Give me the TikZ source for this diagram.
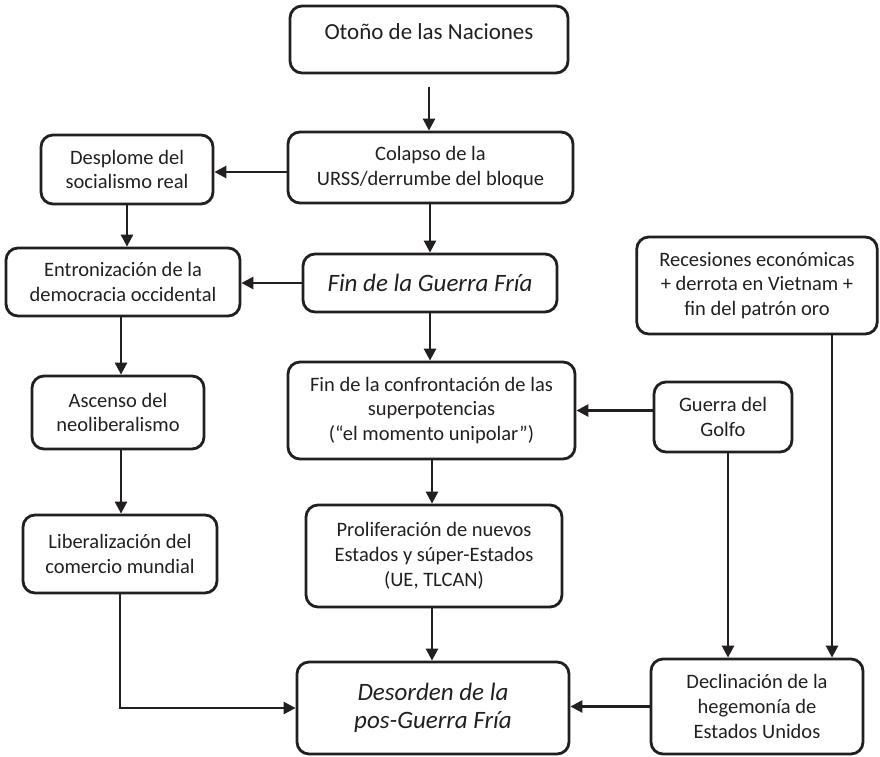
\documentclass[tikz,border=0pt]{standalone}
\usepackage{fontspec}
\setmainfont{Carlito}
\usetikzlibrary{arrows.meta,calc}
\definecolor{ink}{HTML}{231F20}
\tikzset{
  box/.style={draw=ink, text=ink, line width=2.8pt, rounded corners=12pt, align=center, inner sep=0pt,
    font=\fontsize{20.5}{24.8}\selectfont},
  arr/.style={draw=ink, line width=2.6pt, -{Triangle[length=12pt,width=12pt]}},
  ln/.style={draw=ink, line width=2.6pt}
}
\begin{document}
\begin{tikzpicture}[x=1pt,y=-1pt]
\useasboundingbox (0,0) rectangle (880,756);
\node[box, minimum width=278pt, minimum height=67pt, font=\fontsize{23}{27}\selectfont, text height=16pt, text depth=16pt] (otono) at (429,39.5) {Otoño de las Naciones};
\node[box, minimum width=285pt, minimum height=71pt] (colapso) at (430.5,167.5) {Colapso de la\\URSS/derrumbe del bloque};
\node[box, minimum width=172pt, minimum height=69pt] (desplome) at (127,169.5) {Desplome del\\socialismo real};
\node[box, minimum width=234pt, minimum height=68pt] (entron) at (123,282) {Entronización de la\\democracia occidental};
\node[box, minimum width=254pt, minimum height=58pt, font=\fontsize{25}{29}\selectfont\itshape] (fin) at (430,283) {Fin de la Guerra Fría};
\node[box, minimum width=240.5pt, minimum height=97pt] (recesiones) at (757,285.5) {Recesiones económicas\\+ derrota en Vietnam +\\fin del patrón oro};
\node[box, minimum width=172pt, minimum height=73pt] (ascenso) at (118,412.5) {Ascenso del\\neoliberalismo};
\node[box, minimum width=287pt, minimum height=97pt] (conf) at (431.5,410.5) {Fin de la confrontación de las\\superpotencias\\(“el momento unipolar”)};
\node[box, minimum width=138pt, minimum height=70pt] (guerra) at (723,417) {Guerra del\\Golfo};
\node[box, minimum width=194pt, minimum height=78pt] (liber) at (120,554) {Liberalización del\\comercio mundial};
\node[box, minimum width=256pt, minimum height=102pt] (prolif) at (434,556) {Proliferación de nuevos\\Estados y súper-Estados\\(UE, TLCAN)};
\node[box, minimum width=272pt, minimum height=92pt, font=\fontsize{25}{28}\selectfont\itshape] (desorden) at (433,708) {Desorden de la\\pos-Guerra Fría};
\node[box, minimum width=212pt, minimum height=95pt] (declin) at (757,706.5) {Declinación de la\\hegemonía de\\Estados Unidos};

\draw[arr] ([yshift=-13pt]otono.south) -- (colapso.north -| otono.south);
\draw[arr] (colapso.west |- 0,172) -- (desplome.east |- 0,172);
\draw[arr] (desplome.south) -- (desplome.south |- entron.north);
\draw[arr] (colapso.south -| fin.north) -- (fin.north);
\draw[arr] (fin.west) -- (fin.west -| entron.east);
\draw[arr] (entron.south -| 121,0) -- (ascenso.north -| 121,0);
\draw[arr] (fin.south) -- (fin.south |- conf.north);
\draw[arr] (ascenso.south -| 121,0) -- (liber.north -| 121,0);
\draw[arr] (guerra.west |- conf.east) -- (conf.east);
\draw[arr] (conf.south -| 432,0) -- (prolif.north -| 432,0);
\draw[arr] (prolif.south -| 432,0) -- (desorden.north -| 432,0);
\draw[arr] (liber.south) |- (desorden.west);
\draw[arr] (declin.west) -- (declin.west -| desorden.east);
\draw[arr] ([xshift=5pt]guerra.south) -- ([xshift=5pt]guerra.south |- declin.north);
\draw[arr] (recesiones.south -| 832,0) -- (declin.north -| 832,0);
\end{tikzpicture}
\end{document}
